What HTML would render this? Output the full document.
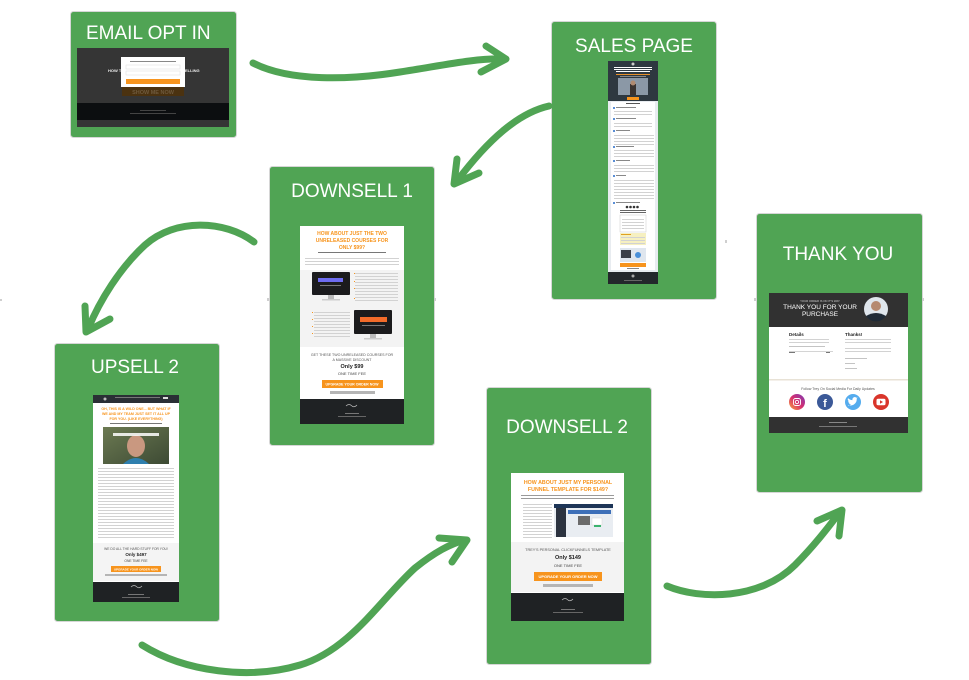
<!DOCTYPE html>
<html><head><meta charset="utf-8"><style>
html,body{margin:0;padding:0;background:#fff;}
svg{display:block;}
text{font-family:"Liberation Sans",Arial,sans-serif;}
</style></head><body>
<svg width="969" height="680" viewBox="0 0 969 680" xmlns="http://www.w3.org/2000/svg">
<defs>
<pattern id="ln" width="6" height="3" patternUnits="userSpaceOnUse"><rect width="6" height="1" fill="#d2d2d2"/></pattern>
<pattern id="lnd" width="6" height="3" patternUnits="userSpaceOnUse"><rect width="6" height="1" fill="#9a9a9a"/></pattern>
<linearGradient id="ig" x1="0" y1="1" x2="1" y2="0"><stop offset="0" stop-color="#f9a33a"/><stop offset="0.5" stop-color="#d62e6f"/><stop offset="1" stop-color="#7a3bb8"/></linearGradient>
<linearGradient id="vid" x1="0" y1="0" x2="1" y2="1"><stop offset="0" stop-color="#6c7a52"/><stop offset="1" stop-color="#3d4a34"/></linearGradient>
</defs>
<rect width="969" height="680" fill="#fff"/>

<!-- ===== EMAIL OPT IN ===== -->
<rect x="70.5" y="11.5" width="166" height="126" rx="3" fill="#50a454" stroke="#d6d6d6"/>
<text x="86" y="39" font-size="19" fill="#fff">EMAIL OPT IN</text>
<rect x="77" y="48" width="152" height="79" fill="#353535"/>
<text x="108" y="72" font-size="4" font-weight="bold" fill="#eee">HOW T</text>
<text x="185" y="72" font-size="4" font-weight="bold" fill="#eee">ELLING</text>
<rect x="122" y="87" width="62" height="9" fill="#4b3210"/>
<text x="153" y="94" font-size="5.5" text-anchor="middle" fill="#6e5a3e" font-weight="bold">SHOW ME NOW</text>
<rect x="121" y="57" width="64" height="30" fill="#fff"/>
<rect x="130" y="61" width="46" height="1" fill="#888"/>
<rect x="126" y="65" width="54" height="4" fill="#fff" stroke="#ddd" stroke-width="0.5"/>
<rect x="126" y="71" width="54" height="4" fill="#fff" stroke="#ddd" stroke-width="0.5"/>
<rect x="126" y="79" width="54" height="5" fill="#f7941d"/>
<rect x="77" y="103" width="152" height="17" fill="#0c0e10"/>
<rect x="140" y="110" width="26" height="1" fill="#444"/>
<rect x="130" y="113" width="46" height="1" fill="#444"/>

<!-- ===== SALES PAGE ===== -->
<rect x="551.5" y="21.5" width="165" height="278" rx="3" fill="#50a454" stroke="#d6d6d6"/>
<text x="634" y="52" font-size="19" fill="#fff" text-anchor="middle">SALES PAGE</text>
<rect x="608" y="61" width="50" height="223" fill="#e8ecf0"/>
<rect x="608" y="61" width="50" height="40" fill="#2e3840"/>
<circle cx="633" cy="64" r="1.5" fill="#ccc"/>
<rect x="614" y="67" width="38" height="1" fill="#fff"/>
<rect x="614" y="69" width="38" height="1" fill="#fff"/>
<rect x="616" y="71" width="34" height="1" fill="#fff"/>
<rect x="616" y="74" width="34" height="1" fill="#e8912a"/>
<rect x="620" y="76" width="26" height="1" fill="#888"/>
<rect x="618" y="78" width="30" height="17" fill="#8b98a6"/>
<rect x="630" y="84" width="6" height="11" fill="#3a3330"/>
<circle cx="633" cy="83" r="2.5" fill="#b08a70"/>
<rect x="627" y="97" width="12" height="3" fill="#f7941d"/>
<rect x="611" y="102" width="44" height="168" fill="#fff"/>
<rect x="626" y="103" width="14" height="1" fill="#555"/>
<g fill="#5b8fd6"><rect x="613" y="107" width="2" height="2"/><rect x="613" y="118" width="2" height="2"/><rect x="613" y="130" width="2" height="2"/><rect x="613" y="146" width="2" height="2"/><rect x="613" y="160" width="2" height="2"/><rect x="613" y="175" width="2" height="2"/><rect x="613" y="202" width="2" height="2"/></g>
<rect x="616" y="107" width="20" height="1" fill="#888"/>
<rect x="614" y="110" width="38" height="6" fill="url(#ln)"/>
<rect x="616" y="118" width="20" height="1" fill="#888"/>
<rect x="614" y="121" width="38" height="6" fill="url(#ln)"/>
<rect x="616" y="130" width="14" height="1" fill="#888"/>
<rect x="614" y="133" width="40" height="12" fill="url(#ln)"/>
<rect x="616" y="146" width="18" height="1" fill="#888"/>
<rect x="614" y="149" width="40" height="9" fill="url(#ln)"/>
<rect x="616" y="160" width="14" height="1" fill="#888"/>
<rect x="614" y="163" width="40" height="10" fill="url(#ln)"/>
<rect x="616" y="175" width="10" height="1" fill="#888"/>
<rect x="614" y="178" width="40" height="22" fill="url(#ln)"/>
<rect x="616" y="202" width="24" height="1" fill="#888"/>
<g fill="#333"><circle cx="627" cy="207" r="1.3"/><circle cx="630.5" cy="207" r="1.3"/><circle cx="634" cy="207" r="1.3"/><circle cx="637.5" cy="207" r="1.3"/></g>
<rect x="620" y="210" width="26" height="1" fill="#666"/>
<rect x="620" y="212" width="26" height="1" fill="#666"/>
<rect x="620" y="215" width="26" height="17" fill="#fff" stroke="#ccc" stroke-width="0.5"/>
<rect x="622" y="218" width="22" height="12" fill="url(#ln)"/>
<rect x="620" y="233" width="26" height="12" fill="#f6f0c0"/>
<rect x="621" y="234" width="10" height="1" fill="#e0a020"/>
<rect x="621" y="237" width="24" height="7" fill="url(#ln)"/>
<rect x="620" y="248" width="26" height="14" fill="#dfe6ee"/>
<rect x="621" y="250" width="10" height="8" fill="#3a3f48"/>
<circle cx="638" cy="255" r="3" fill="#4a90d9"/>
<rect x="620" y="263" width="26" height="4" fill="#f7941d"/>
<rect x="627" y="268" width="12" height="1" fill="#888"/>
<rect x="608" y="272" width="50" height="12" fill="#23272b"/>
<circle cx="633" cy="276" r="1.5" fill="#aaa"/>
<rect x="624" y="280" width="18" height="1" fill="#666"/>

<!-- ===== DOWNSELL 1 ===== -->
<rect x="269.5" y="166.5" width="165" height="279" rx="3" fill="#50a454" stroke="#d6d6d6"/>
<text x="352" y="197" font-size="19" fill="#fff" text-anchor="middle">DOWNSELL 1</text>
<rect x="300" y="226" width="104" height="198" fill="#fff"/>
<g font-size="5" font-weight="bold" fill="#f7941d" text-anchor="middle">
<text x="352" y="235">HOW ABOUT JUST THE TWO</text>
<text x="352" y="242">UNRELEASED COURSES FOR</text>
<text x="352" y="249">ONLY $99?</text>
</g>
<rect x="318" y="252" width="68" height="1" fill="#777"/>
<rect x="305" y="258" width="94" height="7" fill="url(#ln)"/>
<rect x="300" y="270" width="104" height="77" fill="#f3f3f3"/>
<rect x="312" y="272" width="38" height="23" rx="1" fill="#1b1b1d"/>
<rect x="318" y="278" width="25" height="4" fill="#6e6cf0"/>
<rect x="320" y="285" width="21" height="1" fill="#777"/>
<rect x="328" y="295" width="6" height="4" fill="#bbb"/>
<rect x="322" y="299" width="18" height="1.5" fill="#ccc"/>
<rect x="355" y="273" width="43" height="28" fill="url(#ln)"/>
<g fill="#f7941d"><rect x="354" y="273" width="1" height="1"/><rect x="354" y="281" width="1" height="1"/><rect x="354" y="288" width="1" height="1"/><rect x="354" y="298" width="1" height="1"/><rect x="312" y="312" width="1" height="1"/><rect x="312" y="319" width="1" height="1"/><rect x="312" y="326" width="1" height="1"/><rect x="312" y="333" width="1" height="1"/></g>
<rect x="314" y="311" width="36" height="28" fill="url(#ln)"/>
<rect x="354" y="310" width="38" height="24" rx="1" fill="#1b1b1d"/>
<rect x="360" y="317" width="27" height="5" fill="#f26b2a"/>
<rect x="362" y="325" width="23" height="1" fill="#777"/>
<rect x="370" y="334" width="6" height="4" fill="#bbb"/>
<rect x="364" y="338" width="18" height="1.5" fill="#ccc"/>
<g font-size="3.6" fill="#555" text-anchor="middle">
<text x="352" y="356">GET THESE TWO UNRELEASED COURSES FOR</text>
<text x="352" y="361">A MASSIVE DISCOUNT</text>
</g>
<text x="352" y="368" font-size="5.5" font-weight="bold" fill="#222" text-anchor="middle">Only $99</text>
<text x="352" y="375" font-size="4" fill="#444" text-anchor="middle">ONE TIME FEE</text>
<rect x="322" y="380" width="61" height="8" fill="#f7941d"/>
<text x="352" y="385.5" font-size="3.6" font-weight="bold" fill="#fff" text-anchor="middle">UPGRADE YOUR ORDER NOW</text>
<rect x="330" y="391" width="45" height="3" fill="#b5b5b5"/>
<rect x="300" y="399" width="104" height="25" fill="#1f2224"/>
<path d="M346,406 q3,-3 6,0 q2,2 5,-1" stroke="#bbb" stroke-width="0.7" fill="none"/>
<rect x="345" y="413" width="14" height="1" fill="#777"/>
<rect x="338" y="416" width="28" height="1" fill="#666"/>

<!-- ===== UPSELL 2 ===== -->
<rect x="54.5" y="343.5" width="165" height="278" rx="3" fill="#50a454" stroke="#d6d6d6"/>
<text x="135" y="373" font-size="19" fill="#fff" text-anchor="middle">UPSELL 2</text>
<rect x="93" y="395" width="86" height="207" fill="#fff"/>
<rect x="93" y="395" width="86" height="8" fill="#2a2f35"/>
<circle cx="105" cy="399" r="1.5" fill="#bbb"/>
<rect x="115" y="397" width="45" height="1" fill="#777"/>
<rect x="163" y="397" width="5" height="2" fill="#ddd"/>
<g font-size="3.6" font-weight="bold" fill="#f7941d" text-anchor="middle">
<text x="136" y="410">OH, THIS IS A WILD ONE... BUT WHAT IF</text>
<text x="136" y="415">WE AND MY TEAM JUST SET IT ALL UP</text>
<text x="136" y="420">FOR YOU. (LIKE EVERYTHING)</text>
</g>
<rect x="110" y="423" width="52" height="1" fill="#777"/>
<rect x="103" y="427" width="66" height="37" fill="url(#vid)"/>
<ellipse cx="136" cy="446" rx="9" ry="11" fill="#c99880"/>
<path d="M123,464 q13,-12 26,0 z" fill="#2f7fae"/>
<rect x="113" y="433" width="46" height="3" fill="#fff" opacity="0.85"/>
<rect x="98" y="468" width="76" height="72" fill="url(#ln)"/>
<rect x="93" y="543" width="86" height="38" fill="#f4f4f4"/>
<text x="136" y="550" font-size="3.3" fill="#555" text-anchor="middle">WE DO ALL THE HARD STUFF FOR YOU!</text>
<text x="136" y="556" font-size="4.5" font-weight="bold" fill="#222" text-anchor="middle">Only $497</text>
<text x="136" y="562" font-size="3.3" fill="#444" text-anchor="middle">ONE TIME FEE</text>
<rect x="111" y="566" width="50" height="6" fill="#f7941d"/>
<text x="136" y="570.3" font-size="3" font-weight="bold" fill="#fff" text-anchor="middle">UPGRADE YOUR ORDER NOW</text>
<rect x="105" y="574" width="62" height="2" fill="#b5b5b5"/>
<rect x="93" y="582" width="86" height="20" fill="#1f2224"/>
<path d="M131,587 q3,-3 6,0 q2,2 5,-1" stroke="#bbb" stroke-width="0.7" fill="none"/>
<rect x="128" y="594" width="16" height="1" fill="#777"/>
<rect x="122" y="597" width="28" height="1" fill="#666"/>

<!-- ===== DOWNSELL 2 ===== -->
<rect x="486.5" y="387.5" width="165" height="277" rx="3" fill="#50a454" stroke="#d6d6d6"/>
<text x="567" y="433" font-size="19" fill="#fff" text-anchor="middle">DOWNSELL 2</text>
<rect x="511" y="473" width="113" height="148" fill="#fff"/>
<g font-size="5.3" font-weight="bold" fill="#f7941d" text-anchor="middle">
<text x="568" y="484">HOW ABOUT JUST MY PERSONAL</text>
<text x="568" y="491">FUNNEL TEMPLATE FOR $149?</text>
</g>
<rect x="521" y="495" width="93" height="6" fill="url(#lnd)"/>
<rect x="523" y="504" width="29" height="35" fill="url(#ln)"/>
<rect x="554" y="504" width="59" height="33" fill="#e9edf2"/>
<rect x="554" y="504" width="59" height="4" fill="#1d3557"/>
<rect x="556" y="508" width="10" height="29" fill="#2c3340"/>
<rect x="568" y="510" width="43" height="4" fill="#3d6fb8"/>
<rect x="578" y="516" width="12" height="9" fill="#6b6b6b"/>
<rect x="592" y="518" width="10" height="7" fill="#fff" stroke="#ccc" stroke-width="0.4"/>
<rect x="594" y="525" width="7" height="2" fill="#3bb36e"/>
<rect x="511" y="542" width="113" height="50" fill="#f3f3f3"/>
<text x="568" y="551" font-size="3.8" fill="#555" text-anchor="middle">TREY'S PERSONAL CLICKFUNNELS TEMPLATE</text>
<text x="568" y="559" font-size="5.5" font-weight="bold" fill="#222" text-anchor="middle">Only $149</text>
<text x="568" y="567" font-size="4" fill="#444" text-anchor="middle">ONE TIME FEE</text>
<rect x="534" y="572" width="68" height="9" fill="#f7941d"/>
<text x="568" y="578" font-size="4" font-weight="bold" fill="#fff" text-anchor="middle">UPGRADE YOUR ORDER NOW</text>
<rect x="543" y="584" width="50" height="3" fill="#b5b5b5"/>
<rect x="511" y="593" width="113" height="28" fill="#1f2224"/>
<path d="M562,600 q3,-3 6,0 q2,2 5,-1" stroke="#bbb" stroke-width="0.7" fill="none"/>
<rect x="561" y="609" width="14" height="1" fill="#777"/>
<rect x="553" y="612" width="30" height="1" fill="#666"/>

<!-- ===== THANK YOU ===== -->
<rect x="756.5" y="213.5" width="166" height="279" rx="3" fill="#50a454" stroke="#d6d6d6"/>
<text x="838" y="260" font-size="19" fill="#fff" text-anchor="middle">THANK YOU</text>
<rect x="769" y="293" width="139" height="140" fill="#fff"/>
<rect x="769" y="293" width="139" height="34" fill="#313131"/>
<text x="820" y="302" font-size="2.8" fill="#ccc" text-anchor="middle">YOUR ORDER IS ON IT'S WAY</text>
<text x="820" y="309" font-size="6.5" fill="#fff" text-anchor="middle">THANK YOU FOR YOUR</text>
<text x="820" y="316" font-size="6.5" fill="#fff" text-anchor="middle">PURCHASE</text>
<circle cx="876" cy="309" r="12" fill="#dfe6ec"/>
<circle cx="876" cy="306" r="5" fill="#b58a70"/>
<path d="M866,316 q10,-6 20,0 a12,12 0 0 1 -20,0z" fill="#1f2a36"/>
<text x="789" y="336" font-size="4.5" font-weight="bold" fill="#222">Details</text>
<text x="845" y="336" font-size="4.5" font-weight="bold" fill="#222">Thanks!</text>
<rect x="789" y="338" width="40" height="5" fill="url(#ln)"/>
<rect x="789" y="346" width="36" height="1" fill="#c4c4c4"/>
<rect x="789" y="351" width="44" height="0.5" fill="#aaa"/>
<rect x="789" y="352" width="6" height="1" fill="#777"/>
<rect x="826" y="352" width="4" height="1" fill="#777"/>
<rect x="845" y="338" width="46" height="6" fill="url(#ln)"/>
<rect x="845" y="347" width="46" height="6" fill="url(#ln)"/>
<rect x="845" y="358" width="22" height="1" fill="#c4c4c4"/>
<rect x="845" y="363" width="10" height="1" fill="#c4c4c4"/>
<rect x="845" y="368" width="12" height="1" fill="#c4c4c4"/>
<rect x="769" y="379" width="139" height="1.5" fill="#e8e2d6"/>
<text x="838" y="390" font-size="3.5" fill="#555" text-anchor="middle">Follow Trey On Social Media For Daily Updates</text>
<circle cx="797" cy="402" r="8" fill="url(#ig)"/>
<rect x="793.5" y="398.5" width="7" height="7" rx="2" fill="none" stroke="#fff" stroke-width="0.9"/>
<circle cx="797" cy="402" r="1.7" fill="none" stroke="#fff" stroke-width="0.9"/>
<circle cx="825" cy="402" r="8" fill="#3b5998"/>
<text x="825" y="407" font-size="11" font-weight="bold" fill="#fff" text-anchor="middle">f</text>
<circle cx="853" cy="402" r="8" fill="#55acee"/>
<path d="M848.5,405 q4,1.5 7,-2 q1.5,-2 1.2,-4.5 l1,-1 l-1.3,0.3 q-1.5,-1.5 -3.3,0 q-1,1 -0.6,2.3 q-2.5,0 -4.5,-2 q-0.8,2 1,3.2 l-1,-0.1 q0.3,1.5 1.8,2 l-1,0.1 q0.8,1.3 2.3,1.3 q-1.4,1 -3.3,1z" fill="#fff"/>
<circle cx="881" cy="402" r="8" fill="#d9352b"/>
<rect x="876.5" y="398.8" width="9" height="6.4" rx="1.6" fill="#fff"/>
<path d="M880,400.3 l3,1.7 l-3,1.7z" fill="#d9352b"/>
<rect x="769" y="417" width="139" height="16" fill="#313131"/>
<rect x="829" y="422" width="18" height="1" fill="#888"/>
<rect x="819" y="426" width="38" height="1" fill="#777"/>

<!-- tiny side markers -->
<g fill="#cfcfcf">
<rect x="0" y="299" width="2" height="2"/>
<rect x="267" y="298" width="2" height="3"/>
<rect x="434" y="298" width="2" height="3"/>
<rect x="725" y="240" width="2" height="3"/>
<rect x="754" y="298" width="2" height="3"/>
<rect x="922" y="298" width="2" height="3"/>
</g>

<!-- ===== ARROWS ===== -->
<g fill="none" stroke="#50a454" stroke-width="7" stroke-linecap="round" stroke-linejoin="round">
<path d="M253,63 C290,82 350,80 400,72 C440,66 475,58 503,59"/>
<path d="M486,46 L506,59 L481,72"/>
<path d="M549,106 C518,113 488,140 457,181"/>
<path d="M457,159 L454,184 L479,173"/>
<path d="M254,242 C225,220 175,218 145,245 C120,268 100,300 88,329"/>
<path d="M85,306 L86,332 L110,319"/>
<path d="M142,645 C185,672 250,680 300,665 C350,650 380,600 415,568 C435,552 450,544 465,540"/>
<path d="M439,538 L467,540 L452,562"/>
<path d="M667,586 C700,600 760,600 795,565 C815,545 830,525 840,512"/>
<path d="M817,521 L842,510 L839,536"/>
</g>
</svg>
</body></html>
